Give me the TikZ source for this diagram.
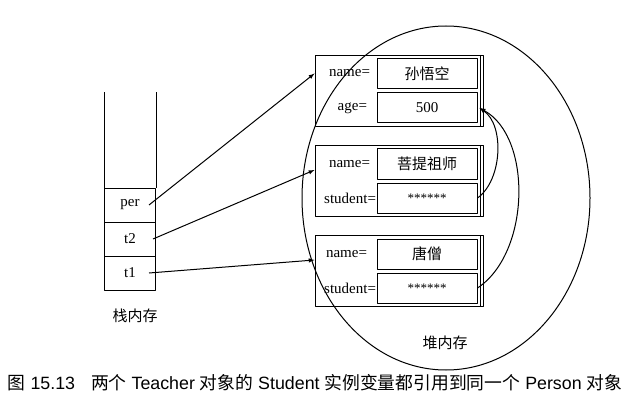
\documentclass[tikz,border=0pt]{standalone}
\usepackage{fontspec}
\setmainfont{Liberation Serif}
\setsansfont{Liberation Sans}
\newfontfamily\cjk{Noto Sans CJK SC}
\usetikzlibrary{positioning}
\begin{document}
\begin{tikzpicture}[x=1pt,y=-1pt,line width=1pt,>=latex,
 line join=round,font=\fontsize{15}{18}\selectfont,
 slot/.style={draw,minimum width=51pt,minimum height=34pt,inner sep=0pt},
 field/.style={draw,minimum width=100pt,minimum height=30pt,inner sep=0pt},
 objbox/.style={draw,minimum width=168pt,minimum height=71pt,inner sep=0pt},
 fname/.style={inner sep=0pt}]
 \useasboundingbox (0,0) rectangle (631,414);
 % heap
 \draw (446,198) ellipse[x radius=144,y radius=172];
 \node (heap) at (445,343) {\cjk 堆内存};
 % stack
 \node[slot] (per) at (130,205) {per};
 \node[slot] (t2) at (130,239) {t2};
 \node[slot] (t1) at (130,273) {t1};
 \draw (per.north west) -- ++(0,-95);
 \draw (per.north east) -- ++(0,-95);
 \node (stack) at (135,316) {\cjk 栈内存};
 % objects
 \foreach \obj/\height in {o1/91,o2/181,o3/271}{
  \node[objbox] (\obj) at (399,\height) {};
  \draw ([xshift=-3pt]\obj.north east) -- ([xshift=-3pt]\obj.south east);
 }
 \node[field] (n1) at (427,73.5) {\cjk 孙悟空};
 \node[field] (a1) at (427,108) {500};
 \node[field] (n2) at (427,164) {\cjk 菩提祖师};
 \node[field] (s2) at (427,198) {\fontsize{13}{15}\selectfont ******};
 \node[field] (n3) at (427,254) {\cjk 唐僧};
 \node[field] (s3) at (427,288) {\fontsize{13}{15}\selectfont ******};
 \node[fname,left=6pt of n1] (n1lab) {name=};
 \node[fname,left=9pt of a1] (a1lab) {age=};
 \node[fname,left=6pt of n2] (n2lab) {name=};
 \node[fname,left=0pt of s2] (s2lab) {student=};
 \node[fname,left=9pt of n3] (n3lab) {name=};
 \node[fname,left=0pt of s3] (s3lab) {student=};
 % references
 \draw[->] ([xshift=-7pt]per.east) -- (o1.west |- n1);
 \draw[->] ([xshift=-3pt]t2.east) -- ([yshift=-6pt]o2.west |- n2);
 \draw[->] ([xshift=-7pt]t1.east) -- ([yshift=-6pt]o3.west |- n3);
 \draw[->] (s2.east) .. controls +(25,-18) and +(25,17) .. ([xshift=2pt]a1.east);
 \draw[->] (s3.east) .. controls +(53,-35) and +(53,29) .. ([xshift=2pt]a1.east);
 % caption
 \node (caption) at (315,383) {\fontsize{17.8}{20}\selectfont\sffamily
  {\cjk 图} 15.13\hspace{0.9em}{\cjk 两个} Teacher {\cjk 对象的} Student
  {\cjk 实例变量都引用到同一个} Person {\cjk 对象}};
\end{tikzpicture}
\end{document}
